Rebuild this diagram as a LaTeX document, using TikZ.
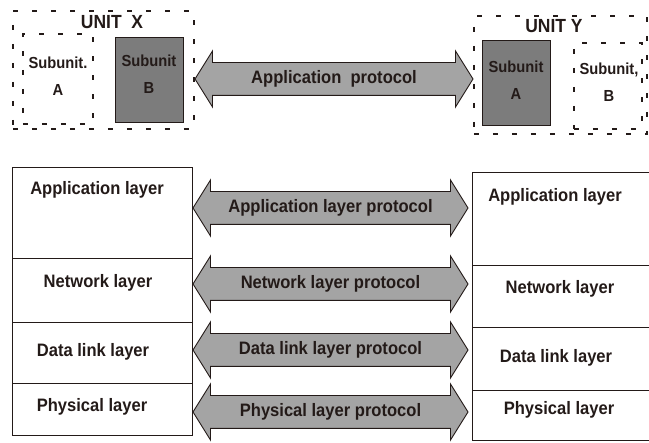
\documentclass[tikz,border=0pt]{standalone}
\usepackage{fontspec}
\setsansfont{Liberation Sans}[FakeStretch=0.92]
\usetikzlibrary{shapes.arrows}
\definecolor{ink}{HTML}{231A18}
\definecolor{shade}{HTML}{7C7C7C}
\definecolor{arrowgray}{HTML}{A4A4A4}
\begin{document}
\begin{tikzpicture}[x=1pt,y=-1pt,
  every node/.style={font=\sffamily\bfseries, text=ink},
  dashbox/.style={draw=ink, line width=1.6pt, dash pattern=on 5pt off 14pt, inner sep=0pt, anchor=north west},
  subbox/.style={draw=ink, line width=1pt, fill=shade, inner sep=0pt, anchor=north west},
  layerbox/.style={draw=ink, line width=1.1pt, inner sep=0pt, anchor=north west},
  lbl/.style={font=\sffamily\bfseries\fontsize{18}{20}\selectfont, inner sep=0pt},
  sublbl/.style={font=\sffamily\bfseries\fontsize{16}{27}\selectfont, align=center, inner sep=0pt},
  unitlbl/.style={font=\sffamily\bfseries\fontsize{19}{21}\selectfont, inner sep=0pt},
  proto/.style={double arrow, draw=ink, line width=0.9pt, fill=arrowgray,
    font=\sffamily\bfseries\fontsize{18}{20}\selectfont,
    text height=12pt, text depth=3.5pt, inner ysep=8.25pt, inner xsep=0pt,
    double arrow head extend=11.5pt, double arrow tip angle=116}
]
\useasboundingbox (0,0) rectangle (649,443);

% ---------- Unit X ----------
\node[dashbox, minimum width=181pt, minimum height=118pt] (ux) at (12,10) {};
\node[dashbox, minimum width=70pt, minimum height=90pt] (uxa) at (22,33) {};
\node[subbox, minimum width=68pt, minimum height=85pt] (uxb) at (115,37) {};
\node[unitlbl] (uxt) at (112,22) {UNIT\ \ X};
\node[sublbl] (uxat) at (58,76) {Subunit.\\A};
\node[sublbl] (uxbt) at (149,74) {Subunit\\B};

% ---------- Unit Y ----------
\node[dashbox, minimum width=173pt, minimum height=118pt] (uy) at (473,15) {};
\node[dashbox, minimum width=68pt, minimum height=86pt] (uyb) at (573,42) {};
\node[subbox, minimum width=68pt, minimum height=85pt] (uya) at (482,40) {};
\node[unitlbl] (uyt) at (554,26) {UNIT Y};
\node[sublbl] (uyat) at (516,80) {Subunit\\A};
\node[sublbl] (uybt) at (609,82) {Subunit,\\B};

% peer protocol between the subunits
\node[proto, minimum height=278pt] (pa) at (334,79) {Application\ \ protocol};

% ---------- Left layer stack ----------
\node[layerbox, minimum width=180pt, minimum height=91pt] (l1) at (12,167) {};
\node[layerbox, minimum width=180pt, minimum height=64pt] (l2) at (12,258) {};
\node[layerbox, minimum width=180pt, minimum height=61pt] (l3) at (12,322) {};
\node[layerbox, minimum width=180pt, minimum height=52pt] (l4) at (12,383) {};
\node[lbl] (l1t) at (97,190) {Application layer};
\node[lbl] (l2t) at (98,283) {Network layer};
\node[lbl] (l3t) at (93,352) {Data link layer};
\node[lbl] (l4t) at (92,407) {Physical layer};

% ---------- Right layer stack ----------
\node[layerbox, minimum width=180pt, minimum height=93pt] (r1) at (472,172) {};
\node[layerbox, minimum width=180pt, minimum height=62pt] (r2) at (472,265) {};
\node[layerbox, minimum width=180pt, minimum height=63pt] (r3) at (472,327) {};
\node[layerbox, minimum width=180pt, minimum height=50pt] (r4) at (472,390) {};
\node[lbl] (r1t) at (555,197) {Application layer};
\node[lbl] (r2t) at (560,289) {Network layer};
\node[lbl] (r3t) at (556,358) {Data link layer};
\node[lbl] (r4t) at (559,410) {Physical layer};

% ---------- Layer protocols ----------
\node[proto, minimum height=275pt] (p1) at (330.5,208) {Application layer protocol};
\node[proto, minimum height=275pt] (p2) at (330.5,284) {Network layer protocol};
\node[proto, minimum height=275pt] (p3) at (330.5,350) {Data link layer protocol};
\node[proto, minimum height=275pt] (p4) at (330.5,412) {Physical layer protocol};
\end{tikzpicture}
\end{document}
